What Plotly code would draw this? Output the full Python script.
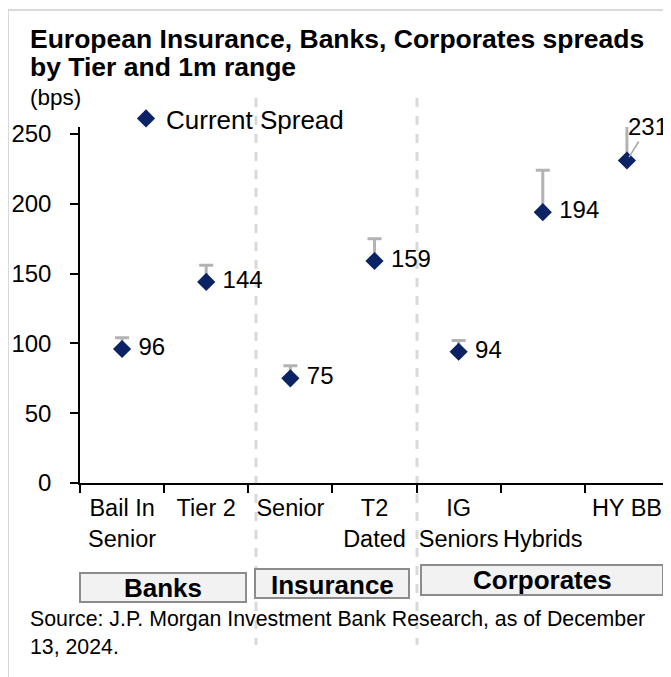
import plotly.graph_objects as go

# ---- data ----
categories = ["Bail In<br>Senior", "Tier 2", "Senior", "T2<br>Dated", "IG<br>Seniors", " <br>Hybrids", "HY BB"]
current_spread = [96, 144, 75, 159, 94, 194, 231]
range_high_1m = [104, 156, 84, 175, 102, 224, 255]
groups = ["Banks", "Insurance", "Corporates"]
y_ticks = [0, 50, 100, 150, 200, 250]

# the page places the figure 8px from the top-left corner
OFF = 8
W, H = 663, 669
L, R, T, B = 72, 2, 119, 194
PW, PH = W - L - R, H - T - B

def px_x(px):
    """page pixel x -> paper x"""
    return (px - OFF - L) / PW

def px_y(py):
    """page pixel y -> paper y"""
    return (H - B - (py - OFF)) / PH

FONT = "Liberation Sans, Arial, sans-serif"
NAVY = "#0b2265"
GRAY_ERR = "#b3b3b3"

fig = go.Figure()

n = len(categories)
err_plus = [h - v for h, v in zip(range_high_1m, current_spread)]
labels = [f" {v}" for v in current_spread[:-1]] + [""]

# error bars (with caps) for all but the last
fig.add_trace(go.Scatter(
    x=categories[:-1], y=current_spread[:-1], mode="markers",
    marker=dict(size=1, color="rgba(0,0,0,0)"),
    error_y=dict(type="data", symmetric=False, array=err_plus[:-1],
                 arrayminus=[0] * (n - 1), color=GRAY_ERR, thickness=3, width=7),
    showlegend=False, hoverinfo="skip"))
# last error bar without cap
fig.add_trace(go.Scatter(
    x=categories[-1:], y=current_spread[-1:], mode="markers",
    marker=dict(size=1, color="rgba(0,0,0,0)"),
    error_y=dict(type="data", symmetric=False, array=err_plus[-1:],
                 arrayminus=[0], color=GRAY_ERR, thickness=3, width=0),
    showlegend=False, hoverinfo="skip", cliponaxis=False))

fig.add_trace(go.Scatter(
    x=categories, y=current_spread, mode="markers+text",
    name="Current Spread",
    marker=dict(symbol="diamond", size=14, color=NAVY),
    text=labels, textposition="middle right",
    textfont=dict(family=FONT, size=24, color="#000000"),
    cliponaxis=False))

# label for last point with leader line
fig.add_annotation(x=categories[-1], y=current_spread[-1], text=str(current_spread[-1]),
                   showarrow=True, arrowhead=0, arrowcolor="#a6a6a6", arrowwidth=1.5,
                   ax=21, ay=-34, standoff=4,
                   font=dict(family=FONT, size=24, color="#000000"))

shapes = []
# outer frame (left and top)
shapes.append(dict(type="line", xref="paper", yref="paper", x0=px_x(8), x1=px_x(8),
                   y0=px_y(10), y1=px_y(700), line=dict(color="#d9d9d9", width=2)))
shapes.append(dict(type="line", xref="paper", yref="paper", x0=px_x(8), x1=px_x(700),
                   y0=px_y(10), y1=px_y(10), line=dict(color="#d9d9d9", width=2)))
# dashed separators
for sx in [256, 417]:
    shapes.append(dict(type="line", xref="paper", yref="paper", x0=px_x(sx), x1=px_x(sx),
                       y0=px_y(98), y1=px_y(645), layer="below",
                       line=dict(color="#d9d9d9", width=3, dash="dash")))
# group boxes
boxes = [(80, 246, 573, 602), (255, 409, 569, 598), (421, 663, 565, 595)]
label_y = [588, 585, 580]
for (x0, x1, y0, y1), g, ly in zip(boxes, groups, label_y):
    shapes.append(dict(type="rect", xref="paper", yref="paper",
                       x0=px_x(x0), x1=px_x(x1), y0=px_y(y1), y1=px_y(y0),
                       fillcolor="#f2f2f2", line=dict(color="#8c8c8c", width=2)))
    fig.add_annotation(xref="paper", yref="paper", x=px_x((x0 + x1) / 2), y=px_y(ly),
                       text=f"<b>{g}</b>", showarrow=False, xanchor="center", yanchor="middle",
                       font=dict(family=FONT, size=26, color="#000000"))

# title, unit, source
title_lines = ["European Insurance, Banks, Corporates spreads", "by Tier and 1m range"]
for line, ly in zip(title_lines, [39, 67]):
    fig.add_annotation(xref="paper", yref="paper", x=px_x(28), y=px_y(ly), xanchor="left", yanchor="middle",
                       text=f"<b>{line}</b>", showarrow=False,
                       font=dict(family=FONT, size=26.5, color="#000000"))
fig.add_annotation(xref="paper", yref="paper", x=px_x(28), y=px_y(98), xanchor="left", yanchor="middle",
                   text="(bps)", showarrow=False,
                   font=dict(family=FONT, size=22.5, color="#000000"))
source_lines = ["Source: J.P. Morgan Investment Bank Research, as of December", "13, 2024."]
for line, ly in zip(source_lines, [619, 647]):
    fig.add_annotation(xref="paper", yref="paper", x=px_x(28), y=px_y(ly), xanchor="left", yanchor="middle",
                       text=line, showarrow=False,
                       font=dict(family=FONT, size=21.3, color="#000000"))

fig.update_layout(
    width=W, height=H,
    margin=dict(l=L, r=R, t=T, b=B, pad=0, autoexpand=False),
    paper_bgcolor="#ffffff", plot_bgcolor="#ffffff",
    font=dict(family=FONT, size=20, color="#000000"),
    shapes=shapes,
    showlegend=True,
    legend=dict(x=px_x(126), y=px_y(95), xanchor="left", yanchor="top",
                bgcolor="rgba(0,0,0,0)", font=dict(family=FONT, size=26, color="#000000"),
                itemwidth=30, tracegroupgap=0),
)
fig.update_xaxes(type="category", categoryorder="array", categoryarray=categories,
                 range=[-0.5, n - 0.5], showgrid=False, zeroline=False, automargin=False,
                 showline=True, linecolor="#000000", linewidth=1.5, tickangle=0,
                 ticks="outside", tickson="boundaries", ticklen=8, tickcolor="#000000", tickwidth=1.5,
                 tickfont=dict(family=FONT, size=23.5, color="#000000"), ticklabelstandoff=3)
fig.update_yaxes(range=[0, 255], tickvals=y_ticks, showgrid=False, zeroline=False, automargin=False,
                 showline=True, linecolor="#000000", linewidth=1.5,
                 ticks="outside", ticklen=8, tickcolor="#000000", tickwidth=1.5,
                 tickfont=dict(family=FONT, size=24, color="#000000"), ticklabelstandoff=14)

fig.write_html("out.html")
